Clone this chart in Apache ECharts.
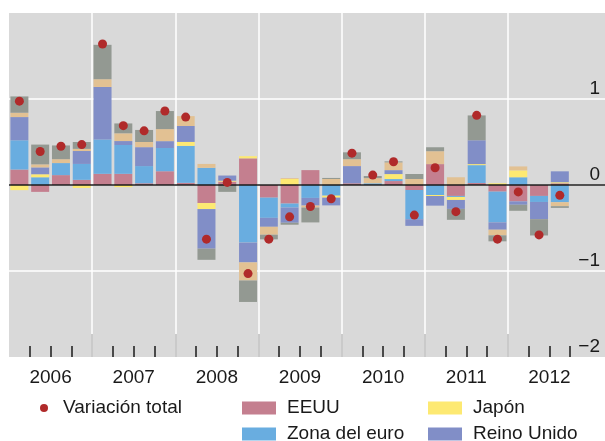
<!DOCTYPE html>
<html>
<head>
<meta charset="utf-8">
<script src="https://cdn.jsdelivr.net/npm/echarts@6/dist/echarts.min.js"></script>
<style>
  html, body { margin: 0; padding: 0; background: #fff; }
  #chart { width: 605px; height: 441px; }
</style>
</head>
<body>
<div id="chart"></div>
<script>
/* ── datos: trimestres 2006 T1 – 2012 T3 (el eje llega a 2012 T4) ── */
const YEARS = ["2006", "2007", "2008", "2009", "2010", "2011", "2012"];
const QUARTERS = YEARS.flatMap((y) => ["T1", "T2", "T3", "T4"].map((q) => `${q} ${y}`));

const EEUU = [0.18, -0.08, 0.115, 0.06, 0.13, 0.13, 0.02, 0.16, 0.025, -0.21, 0.04, 0.31, -0.147, -0.216,
  0.173, 0, 0.02, 0, 0.046, -0.058, 0.243, -0.127, 0.023, -0.077, -0.19, -0.127, 0.02];
const ZONA_EURO = [0.34, 0.09, 0.14, 0.185, 0.40, 0.335, 0.2, 0.27, 0.43, 0.2, 0, -0.67, -0.235, -0.046,
  -0.15, -0.124, 0, 0.02, 0.023, -0.34, -0.116, -0.012, 0.208, -0.358, 0.09, -0.07, -0.2];
const JAPON = [-0.06, 0.035, 0, -0.035, 0, -0.025, 0, 0, 0.046, -0.07, 0.01, 0.025, 0, 0.07,
  0, -0.023, 0, 0, 0.058, 0, -0.012, -0.035, 0.012, 0.02, 0.08, 0, 0.012];
const REINO_UNIDO = [0.27, 0.08, 0, 0.15, 0.61, 0.046, 0.22, 0.08, 0.185, -0.46, 0.06, -0.23, -0.104, -0.177,
  -0.089, -0.09, 0.2, 0, 0.046, -0.077, -0.112, -0.104, 0.277, -0.085, -0.04, -0.2, 0.127];
const OTROS_A = [0.05, 0.035, 0.045, 0.025, 0.09, 0.09, 0.06, 0.14, 0.115, 0.045, 0, -0.21, -0.092, 0.01,
  -0.023, 0.07, 0.08, 0.06, 0.09, 0.07, 0.15, 0.09, 0, -0.065, 0.046, 0, -0.046];
const OTROS_B = [0.19, 0.23, 0.16, 0.08, 0.40, 0.115, 0.14, 0.21, 0, -0.13, -0.08, -0.25, -0.054, -0.023,
  -0.173, 0.012, 0.08, 0.025, 0.012, 0.058, 0.046, -0.127, 0.289, -0.07, -0.07, -0.19, -0.02];
const VARIACION_TOTAL = [0.975, 0.39, 0.45, 0.47, 1.64, 0.69, 0.63, 0.86, 0.79, -0.63, 0.03, -1.03, -0.63, -0.37,
  -0.25, -0.16, 0.37, 0.115, 0.27, -0.35, 0.2, -0.31, 0.81, -0.63, -0.08, -0.58, -0.12];

const FONT = "'Liberation Sans', Arial, sans-serif";
const INK = "#1a1a1a";
const BG = "#d9d9d9";

// marcas del eje: fronteras de trimestre y de año (en unidades de trimestre)
const yearTicks = [4, 8, 12, 16, 20, 24];
const quarterTicks = [];
for (let q = 1; q < QUARTERS.length; q++) if (q % 4) quarterTicks.push(q);
const yearLabelPos = YEARS.map((_, k) => k * 4 + 2);

const barSeries = [
  { name: "EEUU", data: EEUU, color: "#c47f8f" },
  { name: "Zona del euro", data: ZONA_EURO, color: "#69ade0" },
  { name: "Japón", data: JAPON, color: "#fde972" },
  { name: "Reino Unido", data: REINO_UNIDO, color: "#818ec7" },
  { name: "Otros A", data: OTROS_A, color: "#e2c193" },
  { name: "Otros B", data: OTROS_B, color: "#939992" },
].map((s) => ({
  name: s.name,
  type: "bar",
  stack: "total",
  xAxisIndex: 0,
  yAxisIndex: 0,
  barWidth: 18,
  itemStyle: { color: s.color },
  data: s.data,
  silent: true,
}));

const legendText = { fontSize: 19, color: INK, fontFamily: FONT, padding: [0, 0, 0, 6], lineHeight: 20 };
const legendItem = (name, left, top, extra) => ({
  data: [name], left, top, icon: "rect", itemWidth: 34, itemHeight: 13,
  selectedMode: false, textStyle: legendText, ...extra,
});

const chart = echarts.init(document.getElementById("chart"));
chart.setOption({
  animation: false,
  backgroundColor: "#fff",
  grid: [
    // barras (28 trimestres)
    { left: 9, right: 14, top: 13, bottom: 84, outerBoundsMode: "none", containLabel: false },
    // fondo gris, rejilla y escala a la derecha
    { left: 9, right: 0, top: 13, bottom: 84, show: true, backgroundColor: BG, borderWidth: 0,
      outerBoundsMode: "none", containLabel: false },
  ],
  xAxis: [
    { type: "category", gridIndex: 0, position: "bottom", data: QUARTERS, show: false },
    {
      type: "value", gridIndex: 0, position: "bottom", min: 0, max: QUARTERS.length,
      axisLine: { show: false, onZero: false },
      splitLine: { show: false },
      axisTick: { show: true, inside: true, length: 11, customValues: quarterTicks,
        lineStyle: { color: INK, width: 1.5 } },
      axisLabel: {
        customValues: yearLabelPos, margin: 11,
        formatter: (v) => YEARS[(v - 2) / 4] || "",
        fontSize: 19, color: INK, fontFamily: FONT,
      },
    },
    {
      type: "value", gridIndex: 0, position: "bottom", min: 0, max: QUARTERS.length,
      axisLine: { show: false, onZero: false },
      splitLine: { show: false },
      axisTick: { show: true, inside: true, length: 23, customValues: yearTicks,
        lineStyle: { color: INK, width: 1.8 } },
      axisLabel: { show: false },
    },
    { type: "value", gridIndex: 1, min: 0, max: 1, show: false },
  ],
  yAxis: [
    { type: "value", gridIndex: 0, min: -2, max: 2, show: false },
    {
      type: "value", gridIndex: 1, min: -2, max: 2, interval: 1, position: "right",
      axisLine: { show: false },
      axisTick: { show: false },
      splitLine: { show: true, showMinLine: false, showMaxLine: false, lineStyle: { color: "#fff", width: 1.5 } },
      axisLabel: {
        inside: true, margin: 5, align: "right", verticalAlign: "bottom", padding: [0, 0, 1, 0],
        fontSize: 19, color: INK, fontFamily: FONT,
        formatter: (v) => (v === 2 ? "" : String(v).replace("-", "\u2212")),
      },
    },
  ],
  legend: [
    legendItem("Variación total", 35, 393, {
      icon: "circle", itemWidth: 8, itemHeight: 8, textStyle: { ...legendText, padding: [0, 0, 0, 10] },
    }),
    legendItem("EEUU", 237, 393),
    legendItem("Zona del euro", 237, 419),
    legendItem("Japón", 423, 393),
    legendItem("Reino Unido", 423, 419),
  ],
  series: [
    // líneas verticales blancas entre años
    {
      type: "line", xAxisIndex: 1, yAxisIndex: 0, data: [], silent: true,
      markLine: {
        silent: true, symbol: "none", label: { show: false },
        lineStyle: { color: "#fff", width: 1.5, type: "solid" },
        data: yearTicks.map((x) => ({ xAxis: x })),
      },
    },
    ...barSeries,
    // línea del cero
    {
      type: "line", xAxisIndex: 3, yAxisIndex: 1, data: [], silent: true, z: 4,
      markLine: {
        silent: true, symbol: "none", label: { show: false },
        lineStyle: { color: INK, width: 1.5, type: "solid" },
        data: [{ yAxis: 0 }],
      },
    },
    {
      name: "Variación total",
      type: "scatter",
      xAxisIndex: 0,
      yAxisIndex: 0,
      symbolSize: 9,
      z: 5,
      itemStyle: { color: "#b02a2a", opacity: 1 },
      data: VARIACION_TOTAL,
      silent: true,
    },
  ],
});
</script>
</body>
</html>
